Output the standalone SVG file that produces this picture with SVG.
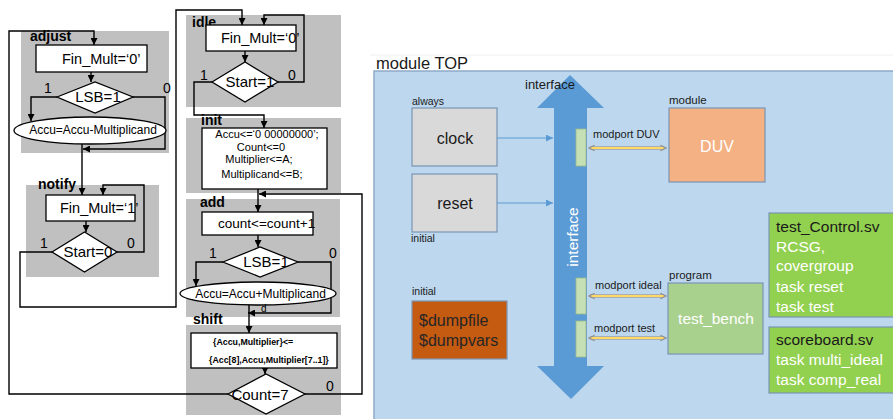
<svg xmlns="http://www.w3.org/2000/svg" width="893" height="419" viewBox="0 0 893 419">
<defs>
<style>
.st{fill:#c0c0c0}
.bx{fill:#fff;stroke:#000;stroke-width:1.3}
.ln{fill:none;stroke:#000;stroke-width:1.4}
.fc{font-family:"Liberation Sans",Arial,sans-serif;fill:#000}
.lb{font-family:"Liberation Sans",Arial,sans-serif;font-weight:bold;font-size:14px;fill:#000}
.rs{font-family:"Liberation Sans",Arial,sans-serif}
.rb{stroke:#7a95b5;stroke-width:1.2}
.bl{fill:none;stroke:#5b9bd5;stroke-width:1}
.mpo{stroke:#a0a0a0;stroke-width:3.6;fill:none}
.mpi{stroke:#ffd966;stroke-width:1.8;fill:none}
</style>
<marker id="ah" viewBox="0 0 10 10" refX="10" refY="5" markerWidth="7" markerHeight="7" markerUnits="userSpaceOnUse" orient="auto"><path d="M0,0L10,5L0,10z" fill="#000"/></marker>
<marker id="ab" viewBox="0 0 10 10" refX="10" refY="5" markerWidth="7" markerHeight="7" markerUnits="userSpaceOnUse" orient="auto"><path d="M0,0L10,5L0,10z" fill="#5b9bd5"/></marker>
<marker id="ay" viewBox="0 0 10 10" refX="9" refY="5" markerWidth="7" markerHeight="8" markerUnits="userSpaceOnUse" orient="auto-start-reverse"><path d="M1,1L9,5L1,9" fill="none" stroke="#909090" stroke-width="1.6"/></marker>
</defs>
<rect width="893" height="419" fill="#fff"/>

<!-- state blocks -->
<g id="adjust"><rect class="st" x="21" y="31" width="148" height="122"/><text class="lb" x="30" y="41">adjust</text></g>
<g id="notify"><rect class="st" x="26" y="185" width="133" height="92"/><text class="lb" x="38" y="189">notify</text></g>
<g id="idle"><rect class="st" x="186" y="15" width="155" height="92"/><text class="lb" x="192" y="27">idle</text></g>
<g id="init"><rect class="st" x="186" y="118" width="155" height="75"/><text class="lb" x="201" y="125">init</text></g>
<g id="add"><rect class="st" x="186" y="199" width="154" height="118"/><text class="lb" x="200" y="207">add</text></g>
<g id="shift"><rect class="st" x="186" y="325" width="155" height="90"/><text class="lb" x="193" y="324">shift</text></g>

<!-- connectors -->
<g id="connectors">
<path class="ln" d="M228,394H9V31H94V45" marker-end="url(#ah)"/>
<path class="ln" d="M91,72V82" marker-end="url(#ah)"/>
<path class="ln" d="M57,97H31V121" marker-end="url(#ah)"/>
<path class="ln" d="M133,97H165V149H83" marker-end="url(#ah)"/>
<path class="ln" d="M82,144V195" marker-end="url(#ah)"/>
<path class="ln" d="M86,221V232" marker-end="url(#ah)"/>
<path class="ln" d="M117,252H144V185H103V195" marker-end="url(#ah)"/>
<path class="ln" d="M52,252H20V307H176V10H242V25" marker-end="url(#ah)"/>
<path class="ln" d="M245,51V62" marker-end="url(#ah)"/>
<path class="ln" d="M278,82H304V15H264V25" marker-end="url(#ah)"/>
<path class="ln" d="M212,82H194V115H264V128" marker-end="url(#ah)"/>
<path class="ln" d="M258,189V212" marker-end="url(#ah)"/>
<path class="ln" d="M305,394H362V194H259" marker-end="url(#ah)"/>
<path class="ln" d="M258,235V247" marker-end="url(#ah)"/>
<path class="ln" d="M223,262H196V286" marker-end="url(#ah)"/>
<path class="ln" d="M298,262H331V313H248" marker-end="url(#ah)"/>
<path class="ln" d="M249,305V333" marker-end="url(#ah)"/>
<path class="ln" d="M265,368V374" marker-end="url(#ah)"/>
</g>

<!-- flowchart nodes -->
<g id="adjust-box"><rect class="bx" x="36" y="45" width="111" height="27"/><text class="fc" x="62" y="64" font-size="14.5">Fin_Mult=‘0’</text></g>
<g id="adjust-lsb"><polygon class="bx" points="57,97 95,82 133,97 95,113"/><text class="fc" x="98" y="102" font-size="15" text-anchor="middle">LSB=1</text>
<text class="fc" x="44" y="93" font-size="14">1</text><text class="fc" x="163" y="93" font-size="14">0</text></g>
<g id="adjust-sub"><ellipse class="bx" cx="90" cy="130.5" rx="76" ry="13.5"/><text class="fc" x="93" y="134" font-size="12" text-anchor="middle">Accu=Accu-Multiplicand</text></g>

<g id="notify-box"><rect class="bx" x="46" y="195" width="89" height="26"/><text class="fc" x="60" y="213" font-size="14.5">Fin_Mult=‘1’</text></g>
<g id="notify-start"><polygon class="bx" points="52,252 84.5,232 117,252 84.5,272"/><text class="fc" x="88" y="257" font-size="15" text-anchor="middle">Start=0</text>
<text class="fc" x="40" y="248" font-size="14">1</text><text class="fc" x="127" y="248" font-size="14">0</text></g>

<g id="idle-box"><rect class="bx" x="206" y="25" width="90" height="26"/><text class="fc" x="221" y="43" font-size="14.5">Fin_Mult=‘0’</text></g>
<g id="idle-start"><polygon class="bx" points="212,82 245,62 278,82 245,102"/><text class="fc" x="250" y="87" font-size="15" text-anchor="middle">Start=1</text>
<text class="fc" x="200" y="80" font-size="14">1</text><text class="fc" x="288" y="80" font-size="14">0</text></g>

<g id="init-box"><rect class="bx" x="202" y="128" width="125" height="61"/>
<text class="fc" x="267" y="138" font-size="11" text-anchor="middle">Accu&lt;=‘0 00000000’;</text>
<text class="fc" x="261" y="150.5" font-size="11" text-anchor="middle">Count&lt;=0</text>
<text class="fc" x="259" y="163" font-size="11" text-anchor="middle">Multiplier&lt;=A;</text>
<text class="fc" x="262" y="177.5" font-size="11" text-anchor="middle">Multiplicand&lt;=B;</text></g>

<g id="add-box"><rect class="bx" x="202" y="212" width="111" height="23"/><text class="fc" x="218" y="228" font-size="13.5">count&lt;=count+1</text></g>
<g id="add-lsb"><polygon class="bx" points="223,262 260,247 298,262 260,277"/><text class="fc" x="266" y="267" font-size="15" text-anchor="middle">LSB=1</text>
<text class="fc" x="209" y="258" font-size="14">1</text><text class="fc" x="329" y="258" font-size="14">0</text></g>
<g id="add-sum"><ellipse class="bx" cx="258" cy="293.5" rx="78" ry="11.5"/><text class="fc" x="260.5" y="298" font-size="12" text-anchor="middle">Accu=Accu+Multiplicand</text>
<text class="fc" x="261" y="312" font-size="10">d</text></g>

<g id="shift-box"><rect class="bx" x="191" y="333" width="146" height="35"/>
<text class="fc" x="213" y="345" font-size="8.8" font-weight="bold">{Accu,Multiplier}&lt;=</text>
<text class="fc" x="209" y="363" font-size="8.8" font-weight="bold">{Acc[8],Accu,Multiplier[7..1]}</text></g>
<g id="shift-count"><polygon class="bx" points="228,394 266,374 305,394 266,414"/><text class="fc" x="260" y="400" font-size="15" text-anchor="middle">Count=7</text>
<text class="fc" x="326" y="391" font-size="14">0</text></g>

<!-- right: module TOP -->
<line x1="370" y1="55" x2="893" y2="55" stroke="#eeeeee" stroke-width="1"/>
<g id="module-top">
<text class="rs" x="376" y="69" font-size="16.5" fill="#1a1a1a">module TOP</text>
<rect x="374" y="71" width="525" height="355" fill="#bdd7ee" stroke="#8fabc9" stroke-width="1.5"/>
</g>

<g id="interface">
<polygon points="570,75 604,108 587,108 587,366 604,366 571,399 537,366 554,366 554,108 537,108" fill="#5b9bd5"/>
<text class="rs" x="525" y="89" font-size="13" fill="#1a1a1a">interface</text>
<text class="rs" transform="translate(578,237) rotate(-90)" font-size="15.5" fill="#fff" text-anchor="middle">interface</text>
<rect x="576" y="129" width="10" height="37" fill="#c5e0b4" stroke="#9fb98a" stroke-width="0.8"/>
<rect x="576" y="278" width="10" height="36" fill="#c5e0b4" stroke="#9fb98a" stroke-width="0.8"/>
<rect x="576" y="321" width="10" height="36" fill="#c5e0b4" stroke="#9fb98a" stroke-width="0.8"/>
</g>

<g id="clock"><text class="rs" x="412" y="105" font-size="10.5" fill="#1a1a1a">always</text>
<rect class="rb" x="412" y="108" width="85" height="58" fill="#d9d9d9"/><text class="rs" x="455" y="144" font-size="16" fill="#1a1a1a" text-anchor="middle">clock</text></g>
<g id="reset"><rect class="rb" x="412" y="174" width="85" height="58" fill="#d9d9d9"/><text class="rs" x="455" y="209" font-size="16" fill="#1a1a1a" text-anchor="middle">reset</text>
<text class="rs" x="411" y="242" font-size="10.5" fill="#1a1a1a">initial</text></g>
<g id="dump"><text class="rs" x="412" y="295" font-size="10.5" fill="#1a1a1a">initial</text>
<rect class="rb" x="412" y="301" width="95" height="58" fill="#c55a11"/>
<text class="rs" x="419" y="326" font-size="16" fill="#262626">$dumpfile</text>
<text class="rs" x="419" y="346" font-size="16" fill="#262626">$dumpvars</text></g>

<g id="duv"><text class="rs" x="669" y="104" font-size="11.5" fill="#1a1a1a">module</text>
<rect class="rb" x="669" y="108" width="96" height="74" fill="#f4b183"/><text class="rs" x="717" y="152" font-size="16" fill="#fff" text-anchor="middle">DUV</text></g>
<g id="program"><text class="rs" x="669" y="279" font-size="11.5" fill="#1a1a1a">program</text>
<rect class="rb" x="668" y="283" width="95" height="71" fill="#a9d18e"/><text class="rs" x="716" y="324" font-size="15.5" fill="#fff" text-anchor="middle">test_bench</text></g>
<g id="test-control"><rect class="rb" x="769" y="213" width="130" height="104" fill="#92d050"/>
<text class="rs" x="776" y="232" font-size="15.5" fill="#1a1a1a">test_Control.sv</text>
<text class="rs" x="776" y="252" font-size="15.5" fill="#fff">RCSG,</text>
<text class="rs" x="776" y="271" font-size="15.5" fill="#fff">covergroup</text>
<text class="rs" x="776" y="292" font-size="15.5" fill="#fff">task reset</text>
<text class="rs" x="776" y="312" font-size="15.5" fill="#fff">task test</text></g>
<g id="scoreboard"><rect class="rb" x="769" y="327" width="130" height="66" fill="#92d050"/>
<text class="rs" x="776" y="345" font-size="15.5" fill="#1a1a1a">scoreboard.sv</text>
<text class="rs" x="776" y="365" font-size="15.5" fill="#fff">task multi_ideal</text>
<text class="rs" x="776" y="385" font-size="15.5" fill="#fff">task comp_real</text></g>

<g id="connectors-right">
<line class="bl" x1="497" y1="138" x2="553" y2="138" marker-end="url(#ab)"/>
<line class="bl" x1="497" y1="203" x2="553" y2="203" marker-end="url(#ab)"/>
<line class="mpo" x1="590" y1="148" x2="664" y2="148"/><line class="mpi" x1="590" y1="148" x2="664" y2="148"/>
<line x1="589" y1="148" x2="666" y2="148" stroke="none" marker-start="url(#ay)" marker-end="url(#ay)"/>
<line class="mpo" x1="590" y1="296" x2="664" y2="296"/><line class="mpi" x1="590" y1="296" x2="664" y2="296"/>
<line x1="589" y1="296" x2="666" y2="296" stroke="none" marker-start="url(#ay)" marker-end="url(#ay)"/>
<line class="mpo" x1="590" y1="338" x2="664" y2="338"/><line class="mpi" x1="590" y1="338" x2="664" y2="338"/>
<line x1="589" y1="338" x2="666" y2="338" stroke="none" marker-start="url(#ay)" marker-end="url(#ay)"/>
<text class="rs" x="593" y="138" font-size="11" fill="#1a1a1a">modport DUV</text>
<text class="rs" x="595" y="289" font-size="11" fill="#1a1a1a">modport ideal</text>
<text class="rs" x="594" y="332" font-size="11" fill="#1a1a1a">modport test</text>
</g>
</svg>
